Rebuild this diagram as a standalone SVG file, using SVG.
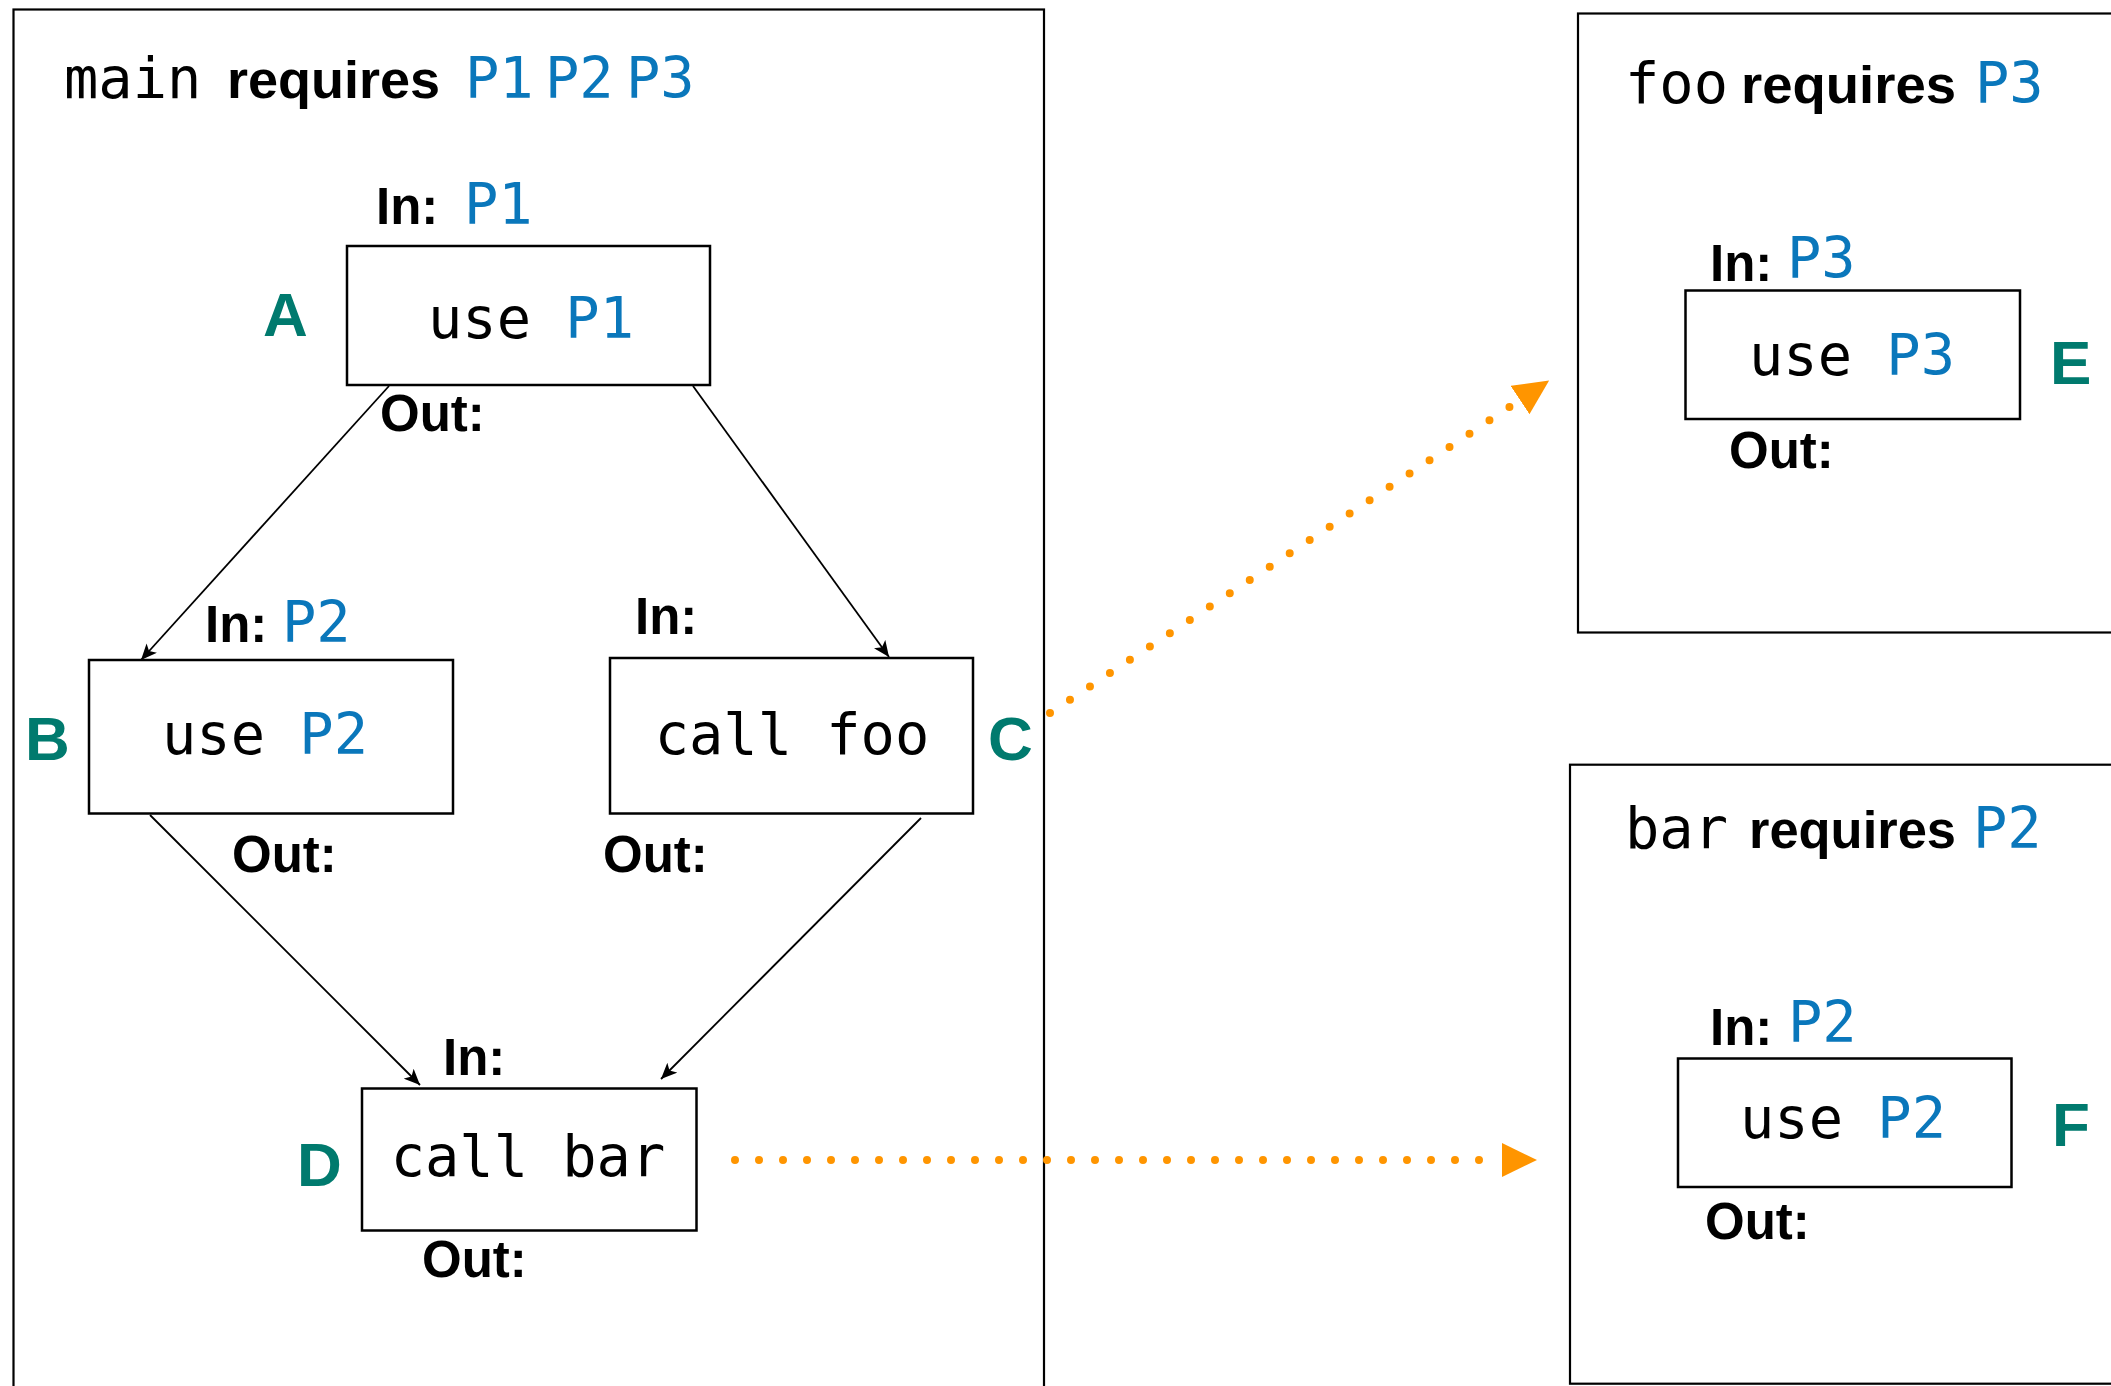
<svg xmlns="http://www.w3.org/2000/svg" width="2111" height="1386" viewBox="0 0 2111 1386">
<style>
.frame{fill:none;stroke:#000;stroke-width:2.2}
.box{fill:#fff;stroke:#000;stroke-width:2.5}
.mono{font-family:"DejaVu Sans Mono","Liberation Mono",monospace;font-size:57px;fill:#000}
.p{fill:#0a77bb}
.lbl{font-family:"Liberation Sans",Arial,sans-serif;font-weight:bold;font-size:51px;fill:#000}
.id{font-family:"Liberation Sans",Arial,sans-serif;font-weight:bold;font-size:62px;fill:#007a6e}
.edge{fill:none;stroke:#000;stroke-width:1.8}
.call{fill:none;stroke:#ff9500;stroke-width:8;stroke-linecap:round;stroke-dasharray:0 24}
</style>
<defs>
<marker id="ah" markerUnits="userSpaceOnUse" markerWidth="18" markerHeight="14" refX="16" refY="7" orient="auto">
<path d="M0,0 L16,7 L0,14 L4,7 z" fill="#000"/>
</marker>
<marker id="oh" markerUnits="userSpaceOnUse" markerWidth="36" markerHeight="36" refX="0" refY="17" orient="auto">
<path d="M0,0 L35,17 L0,34 z" fill="#ff9500"/>
</marker>
</defs>

<g id="main">
<rect class="frame" x="13.5" y="9.5" width="1030.5" height="1390"/>
<text class="mono" x="64" y="98">main</text>
<text class="lbl" x="227" y="98" textLength="213" lengthAdjust="spacingAndGlyphs">requires</text>
<text class="mono p" x="465" y="98">P1</text>
<text class="mono p" x="545" y="98">P2</text>
<text class="mono p" x="626" y="98">P3</text>
</g>

<g id="foo">
<rect class="frame" x="1578" y="13.5" width="560" height="619"/>
<text class="mono" x="1625" y="103">foo</text>
<text class="lbl" x="1741" y="103" textLength="215" lengthAdjust="spacingAndGlyphs">requires</text>
<text class="mono p" x="1975" y="103">P3</text>
</g>

<g id="bar">
<rect class="frame" x="1570" y="764.7" width="570" height="619"/>
<text class="mono" x="1625" y="848">bar</text>
<text class="lbl" x="1749" y="848" textLength="207" lengthAdjust="spacingAndGlyphs">requires</text>
<text class="mono p" x="1973" y="848">P2</text>
</g>

<g id="connectors">
<line class="edge" x1="389" y1="386" x2="141" y2="660" marker-end="url(#ah)"/>
<line class="edge" x1="693" y1="386" x2="889" y2="657" marker-end="url(#ah)"/>
<line class="edge" x1="150" y1="815" x2="420" y2="1085" marker-end="url(#ah)"/>
<line class="edge" x1="921" y1="818" x2="661" y2="1079" marker-end="url(#ah)"/>
<line class="call" x1="1050" y1="713" x2="1520" y2="400" marker-end="url(#oh)"/>
<line class="call" x1="735" y1="1160" x2="1502" y2="1160" marker-end="url(#oh)"/>
</g>

<g id="nodeA">
<rect class="box" x="347" y="246" width="363" height="139"/>
<text class="lbl" x="376" y="224">In:</text>
<text class="mono p" x="464" y="224">P1</text>
<text class="id" x="263" y="336">A</text>
<text class="mono" x="531" y="338" text-anchor="middle">use <tspan class="p">P1</tspan></text>
<text class="lbl" x="380" y="431">Out:</text>
</g>

<g id="nodeB">
<rect class="box" x="89" y="660" width="364" height="153.5"/>
<text class="lbl" x="205" y="642">In:</text>
<text class="mono p" x="282" y="642">P2</text>
<text class="id" x="25" y="760">B</text>
<text class="mono" x="265" y="754" text-anchor="middle">use <tspan class="p">P2</tspan></text>
<text class="lbl" x="232" y="872">Out:</text>
</g>

<g id="nodeC">
<rect class="box" x="610" y="658" width="363" height="155.5"/>
<text class="lbl" x="635" y="634">In:</text>
<text class="id" x="988" y="760">C</text>
<text class="mono" x="792" y="754" text-anchor="middle">call foo</text>
<text class="lbl" x="603" y="872">Out:</text>
</g>

<g id="nodeD">
<rect class="box" x="362" y="1088.5" width="334.5" height="142"/>
<text class="lbl" x="443" y="1075">In:</text>
<text class="id" x="297" y="1186">D</text>
<text class="mono" x="528" y="1176" text-anchor="middle">call bar</text>
<text class="lbl" x="422" y="1277">Out:</text>
</g>

<g id="nodeE">
<rect class="box" x="1685.5" y="290.5" width="334.5" height="128.5"/>
<text class="lbl" x="1710" y="281">In:</text>
<text class="mono p" x="1787" y="278">P3</text>
<text class="id" x="2050" y="384">E</text>
<text class="mono" x="1852" y="375" text-anchor="middle">use <tspan class="p">P3</tspan></text>
<text class="lbl" x="1729" y="468">Out:</text>
</g>

<g id="nodeF">
<rect class="box" x="1678" y="1058.5" width="333.5" height="128.5"/>
<text class="lbl" x="1710" y="1045">In:</text>
<text class="mono p" x="1788" y="1042">P2</text>
<text class="id" x="2052" y="1146">F</text>
<text class="mono" x="1843" y="1138" text-anchor="middle">use <tspan class="p">P2</tspan></text>
<text class="lbl" x="1705" y="1239">Out:</text>
</g>
</svg>
